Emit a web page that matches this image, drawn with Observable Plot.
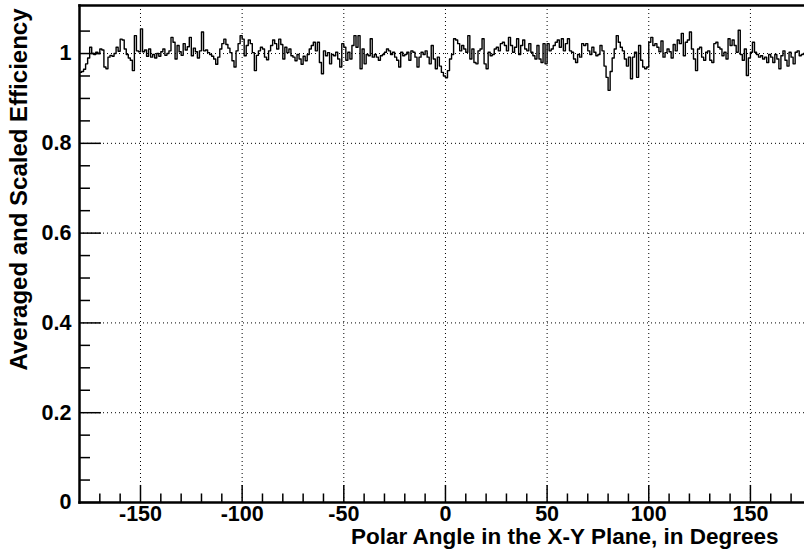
<!DOCTYPE html>
<html><head><meta charset="utf-8">
<script src="https://cdn.jsdelivr.net/npm/d3@7"></script>
<script src="https://cdn.jsdelivr.net/npm/@observablehq/plot@0.6"></script>
<style>body{margin:0;background:#fff}</style>
</head><body><div id="chart"></div>
<script>
// Histogram: 360 bins of 1 degree, from -180 to 180
const binStart = -180;
const binWidth = 1;
const effM180 = [
  0.958, 0.960, 0.965, 0.977, 0.990, 1.014, 1.000, 0.998, 1.003, 1.000,
  1.010, 1.008, 0.970, 0.966, 0.992, 0.996, 0.994, 1.000, 1.014, 1.005,
  1.032, 1.030, 1.010, 0.998, 0.990, 0.985, 0.962, 1.040, 1.006, 1.004,
  1.055, 1.004, 1.008, 0.994, 1.010, 0.992, 0.998, 0.990, 1.000, 0.994,
  1.004, 1.010, 0.996, 1.000, 1.006, 1.036, 1.025, 0.988, 1.018, 1.004,
  0.996, 1.022, 1.008, 1.015, 1.036, 0.995, 1.012, 1.004, 0.990, 1.006];
const effM120 = [
  1.048, 1.006, 1.008, 1.002, 0.998, 0.994, 0.988, 0.976, 0.992, 1.010,
  1.022, 1.032, 1.020, 1.012, 1.002, 0.984, 0.970, 1.006, 1.022, 1.040,
  1.032, 0.995, 1.018, 1.030, 1.022, 1.002, 0.962, 0.996, 1.006, 1.014,
  1.010, 0.992, 0.986, 1.006, 1.018, 1.030, 1.022, 1.010, 1.032, 1.020,
  0.988, 1.014, 1.002, 1.010, 0.995, 0.992, 0.984, 0.998, 0.988, 0.976,
  0.994, 0.984, 0.998, 1.010, 1.018, 1.025, 1.006, 1.025, 0.980, 0.955];
const effM60 = [
  1.006, 0.995, 1.002, 0.977, 0.998, 0.995, 1.003, 0.988, 0.970, 1.022,
  1.014, 0.985, 1.003, 0.988, 1.018, 1.040, 1.014, 1.040, 0.966, 1.010,
  0.977, 0.998, 0.995, 1.033, 0.992, 0.998, 0.992, 0.985, 0.995, 0.998,
  1.003, 1.010, 1.006, 0.998, 1.003, 0.992, 0.985, 0.970, 1.003, 0.995,
  0.998, 1.003, 0.985, 1.006, 1.003, 0.992, 0.970, 0.992, 1.003, 0.998,
  1.006, 0.992, 0.977, 1.018, 0.988, 0.966, 0.992, 0.972, 0.958, 0.950];
const effP0 = [
  0.946, 0.962, 0.988, 0.998, 1.033, 1.030, 1.022, 1.006, 1.018, 1.010,
  1.003, 1.040, 0.988, 1.010, 0.980, 0.977, 1.006, 1.010, 1.033, 0.977,
  0.966, 1.003, 0.995, 0.998, 1.010, 1.014, 1.006, 1.022, 1.025, 1.018,
  1.006, 1.036, 1.018, 1.003, 1.014, 1.033, 0.998, 1.018, 1.030, 1.010,
  1.006, 1.022, 1.003, 0.995, 0.988, 1.018, 0.988, 0.980, 1.022, 0.977,
  1.022, 1.006, 1.010, 1.018, 1.025, 1.030, 1.014, 1.033, 1.006, 1.022];
const effP60 = [
  1.033, 1.006, 1.003, 0.988, 0.980, 0.998, 0.992, 1.022, 1.018, 1.022,
  1.006, 0.998, 1.014, 1.003, 0.995, 0.998, 1.018, 1.006, 0.972, 0.947,
  0.918, 0.960, 0.990, 1.010, 1.040, 1.025, 1.014, 1.006, 0.988, 0.972,
  0.992, 0.944, 0.992, 1.003, 0.947, 1.018, 0.985, 0.970, 0.966, 0.970,
  1.025, 1.036, 1.018, 1.022, 1.014, 1.004, 1.028, 0.992, 1.002, 1.010,
  1.004, 0.990, 1.020, 1.006, 1.030, 1.022, 1.045, 0.995, 1.025, 1.030];
const effP120 = [
  1.048, 1.010, 0.988, 0.962, 1.010, 1.014, 0.992, 0.985, 1.003, 1.006,
  0.985, 0.980, 1.022, 1.025, 1.014, 1.010, 0.995, 1.003, 0.988, 1.033,
  1.018, 1.030, 1.018, 1.003, 1.052, 0.998, 0.985, 1.010, 0.951, 0.990,
  1.003, 1.025, 1.003, 0.998, 0.992, 0.995, 0.988, 0.992, 0.980, 0.998,
  0.992, 0.980, 0.998, 0.988, 0.966, 0.995, 1.006, 0.985, 0.972, 1.003,
  0.992, 0.977, 1.003, 1.006, 0.995, 0.998, 1.000, 0.998, 1.002, 1.000];

const xMajorTicks = [-150, -100, -50, 0, 50, 100, 150];
const xMinorTicks = [-170, -160, -140, -130, -120, -110, -90, -80, -70, -60, -40, -30, -20, -10,
                     10, 20, 30, 40, 60, 70, 80, 90, 110, 120, 130, 140, 160, 170];
const yMajorTicks = [0, 0.2, 0.4, 0.6, 0.8, 1];
const yMinorTicks = [0.05, 0.1, 0.15, 0.25, 0.3, 0.35, 0.45, 0.5, 0.55, 0.65, 0.7, 0.75,
                     0.85, 0.9, 0.95, 1.05];
const yGridTicks = [0.2, 0.4, 0.6, 0.8, 1];
const xTitle = "Polar Angle in the X-Y Plane, in Degrees";
const yTitle = "Averaged and Scaled Efficiency";

const effValues = [...effM180, ...effM120, ...effM60, ...effP0, ...effP60, ...effP120];
const bins = effValues.map((v, i) => ({x: binStart + i * binWidth, y: v}));
bins.push({x: binStart + effValues.length * binWidth, y: effValues[effValues.length - 1]});

const font = "Liberation Sans, Arial, Helvetica, sans-serif";
const xTickLen = 0.038, xMinorLen = 0.019;   // in y units
const yTickLen = 10.8, yMinorLen = 5.4;      // in x units

const chart = Plot.plot({
  width: 804,
  height: 556,
  marginLeft: 79,
  marginRight: 0,
  marginTop: 5,
  marginBottom: 54,
  style: {fontFamily: font, background: "#fff"},
  x: {domain: [-180, 176.6], axis: null},
  y: {domain: [0, 1.107], axis: null},
  marks: [
    Plot.ruleX(xMajorTicks, {x: d => d, stroke: "black", strokeWidth: 1, strokeDasharray: "1,3"}),
    Plot.ruleY(yGridTicks, {y: d => d, stroke: "black", strokeWidth: 1, strokeDasharray: "1,3"}),
    Plot.line(bins, {x: "x", y: "y", curve: "step-after", stroke: "black", strokeWidth: 1.4, clip: true}),
    Plot.ruleX(xMajorTicks, {x: d => d, y1: 0, y2: xTickLen, stroke: "black", strokeWidth: 1.5}),
    Plot.ruleX(xMinorTicks, {x: d => d, y1: 0, y2: xMinorLen, stroke: "black", strokeWidth: 1.5}),
    Plot.ruleY(yMajorTicks, {y: d => d, x1: -180, x2: -180 + yTickLen, stroke: "black", strokeWidth: 1.5}),
    Plot.ruleY(yMinorTicks, {y: d => d, x1: -180, x2: -180 + yMinorLen, stroke: "black", strokeWidth: 1.5}),
    Plot.frame({anchor: "top", stroke: "black", strokeWidth: 2.5}),
    Plot.frame({anchor: "left", stroke: "black", strokeWidth: 2.5}),
    Plot.frame({anchor: "bottom", stroke: "black", strokeWidth: 2.5}),
    Plot.text(xMajorTicks, {x: d => d, frameAnchor: "bottom", dy: 3, lineAnchor: "top",
      text: d => String(d), fontSize: 21.5, fontWeight: "bold", fill: "black"}),
    Plot.text(yMajorTicks, {y: d => d, frameAnchor: "left", dx: -8, textAnchor: "end", lineAnchor: "middle",
      text: d => String(d), fontSize: 21.5, fontWeight: "bold", fill: "black"}),
    Plot.text([xTitle], {frameAnchor: "bottom-right", dx: -26, dy: 41, textAnchor: "end", lineAnchor: "bottom",
      text: d => d, fontSize: 22.5, fontWeight: "bold", fill: "black"}),
    Plot.text([yTitle], {frameAnchor: "top-left", dx: -60, dy: 3, rotate: -90, textAnchor: "end", lineAnchor: "middle",
      text: d => d, fontSize: 24, fontWeight: "bold", fill: "black"})
  ]
});
document.getElementById("chart").appendChild(chart);
</script>
</body></html>
